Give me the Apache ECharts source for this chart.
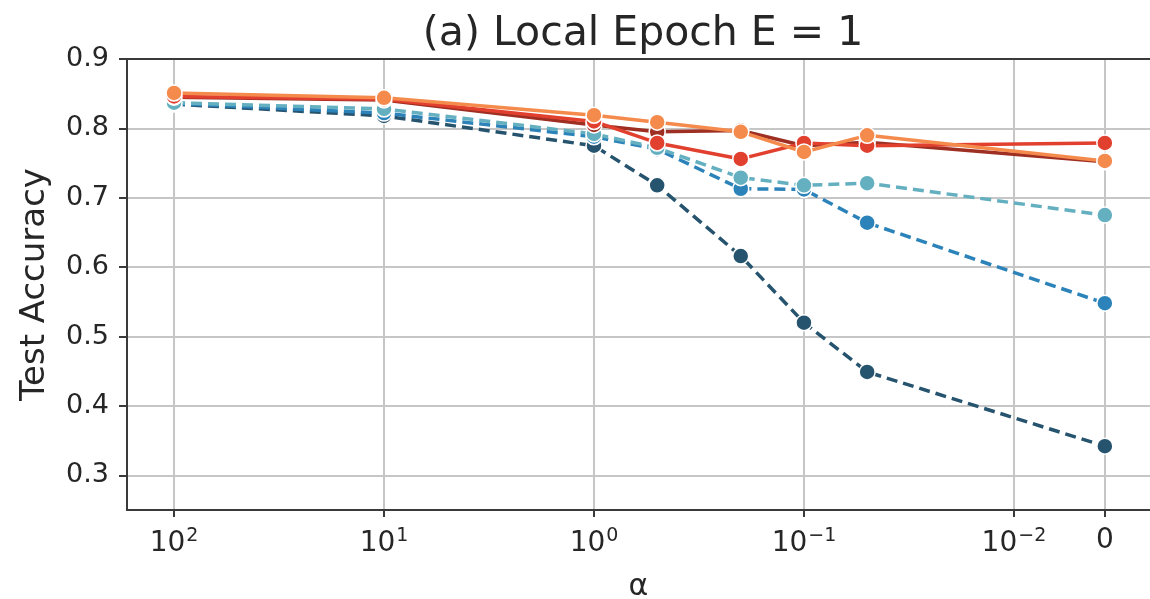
<!DOCTYPE html>
<html>
<head>
<meta charset="utf-8">
<script src="https://cdn.jsdelivr.net/npm/echarts@6/dist/echarts.min.js"></script>
<style>
  html, body { margin: 0; padding: 0; background: #fff; }
  #chart { width: 1150px; height: 599px; }
</style>
</head>
<body>
<div id="chart"></div>
<script>
// alpha values (Dirichlet concentration), 0 drawn at its own slot right of 10^-2
const alphas = [100, 10, 1, 0.5, 0.2, 0.1, 0.05, 0]
const zeroSlot = 2.433

const xTickValues = [-2, -1, 0, 1, 2, zeroSlot]
const xTickLabels = ['10{sup|2}', '10{sup|1}', '10{sup|0}', '10{sup|\u22121}', '10{sup|\u22122}', '0']
const yTickValues = [0.3, 0.4, 0.5, 0.6, 0.7, 0.8, 0.9]

const navyAcc   = [0.835, 0.818, 0.775, 0.718, 0.616, 0.520, 0.449, 0.342]
const blueAcc   = [0.836, 0.822, 0.788, 0.770, 0.713, 0.712, 0.664, 0.548]
const tealAcc   = [0.837, 0.828, 0.792, 0.772, 0.729, 0.718, 0.721, 0.675]
const darkRedAcc = [0.845, 0.841, 0.805, 0.795, 0.797, 0.775, 0.780, 0.752]
const redAcc    = [0.846, 0.842, 0.810, 0.779, 0.756, 0.779, 0.775, 0.779]
const orangeAcc = [0.851, 0.844, 0.819, 0.809, 0.795, 0.766, 0.790, 0.753]

const xPos = a => a === 0 ? zeroSlot : -Math.log10(a)

const lines = [
  { name: 'navy', data: navyAcc, color: '#26536e', dashed: true },
  { name: 'blue', data: blueAcc, color: '#2c83b9', dashed: true },
  { name: 'teal', data: tealAcc, color: '#64b0c0', dashed: true },
  { name: 'darkred', data: darkRedAcc, color: '#9e2f22', dashed: false },
  { name: 'red', data: redAcc, color: '#e2402f', dashed: false },
  { name: 'orange', data: orangeAcc, color: '#f48a4c', dashed: false }
]

const chart = echarts.init(document.getElementById('chart'))
const font = 'DejaVu Sans'
const ink = '#262626'
const spine = { show: true, onZero: false, lineStyle: { color: '#3a3a3a', width: 2 } }

chart.setOption({
  animation: false,
  textStyle: { fontFamily: font },
  title: {
    text: '(a) Local Epoch E = 1',
    left: 638, top: 9, textAlign: 'center',
    textStyle: { fontFamily: font, fontSize: 41, fontWeight: 'normal', color: ink }
  },
  grid: { left: 127, right: 0, top: 59, bottom: 89, outerBoundsMode: 'none', containLabel: false },
  xAxis: [{
    type: 'value', min: -2.224, max: 2.648,
    name: 'α', nameLocation: 'middle', nameGap: 62,
    nameTextStyle: { fontFamily: font, fontSize: 30, color: ink },
    axisLine: spine,
    axisTick: { show: true, length: 7, lineStyle: { color: '#3a3a3a', width: 2 }, customValues: xTickValues },
    axisLabel: {
      customValues: xTickValues,
      margin: 17,
      fontFamily: font, fontSize: 28, color: ink,
      formatter: v => {
        const i = xTickValues.findIndex(t => Math.abs(t - v) < 1e-6)
        return i >= 0 ? xTickLabels[i] : ''
      },
      rich: {
        sup: { fontFamily: font, fontSize: 19, color: ink, verticalAlign: 'top', padding: [0, 0, 14, 1] }
      }
    },
    splitLine: { show: true, lineStyle: { color: '#c6c6c6', width: 2 } }
  }, {
    // top spine only
    type: 'value', position: 'top', min: -2.224, max: 2.648,
    axisLine: spine, axisTick: { show: false }, axisLabel: { show: false }, splitLine: { show: false }
  }],
  yAxis: {
    type: 'value', min: 0.25, max: 0.9,
    name: 'Test Accuracy', nameLocation: 'middle', nameGap: 75,
    nameTextStyle: { fontFamily: font, fontSize: 34, color: ink },
    axisLine: spine,
    axisTick: { show: true, length: 8, lineStyle: { color: '#3a3a3a', width: 2 }, customValues: yTickValues },
    axisLabel: {
      customValues: yTickValues,
      margin: 18,
      fontFamily: font, fontSize: 27, color: ink,
      formatter: v => v.toFixed(1)
    },
    splitLine: { show: true, lineStyle: { color: '#c6c6c6', width: 2 } }
  },
  series: lines.map((s, i) => ({
    name: s.name,
    type: 'line',
    z: 2 + i,
    data: alphas.map((a, k) => [xPos(a), s.data[k]]),
    symbol: 'circle',
    symbolSize: 16,
    showSymbol: true,
    lineStyle: { color: s.color, width: 3.5, type: s.dashed ? [11, 6] : 'solid' },
    itemStyle: { color: s.color, borderColor: '#fff', borderWidth: 1.5 }
  }))
})
</script>
</body>
</html>
